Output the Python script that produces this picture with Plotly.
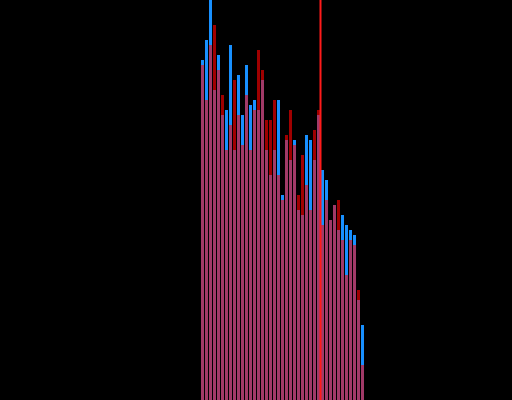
import plotly.graph_objects as go

bins = list(range(41))
series_blue = [340, 360, 410, 310, 345, 285, 290, 355, 250, 325,
               285, 335, 295, 300, 290, 320, 250, 225, 250, 300,
               205, 260, 240, 260, 190, 185, 265, 260, 240, 285,
               230, 220, 180, 195, 170, 185, 175, 170, 165, 100, 75]
series_red = [335, 300, 355, 375, 330, 305, 250, 275, 320, 285,
              255, 305, 250, 290, 350, 330, 280, 280, 300, 225,
              200, 265, 290, 255, 205, 245, 215, 190, 270, 290,
              175, 200, 180, 195, 200, 160, 125, 160, 155, 110, 35]
threshold = 29.5

overlap = [min(a, b) for a, b in zip(series_blue, series_red)]

fig = go.Figure()
fig.add_trace(go.Bar(x=bins, y=series_blue, marker=dict(color="#1890ff", line=dict(width=0)), name="A"))
fig.add_trace(go.Bar(x=bins, y=series_red, marker=dict(color="#a00000", line=dict(width=0)), name="B"))
fig.add_trace(go.Bar(x=bins, y=overlap, marker=dict(color="#a13a68", line=dict(width=0)), name="both"))

fig.add_shape(type="line", x0=threshold, x1=threshold, y0=0, y1=1, yref="paper",
              line=dict(color="#ff1a1a", width=2))

fig.update_layout(
    width=512, height=400,
    margin=dict(l=0, r=0, t=0, b=0),
    paper_bgcolor="black", plot_bgcolor="black",
    barmode="overlay", bargap=0.25,
    showlegend=False,
    xaxis=dict(range=[-50.625, 77.375], visible=False, showgrid=False, zeroline=False),
    yaxis=dict(range=[0, 400], visible=False, showgrid=False, zeroline=False),
)

fig.write_html("out.html", config={"displayModeBar": False},
               post_script="document.body.style.margin='0';document.body.style.background='black';")
